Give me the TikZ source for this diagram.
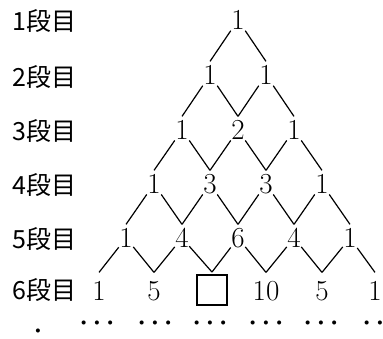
\RequirePackage{fix-cm}
\documentclass[tikz,border=0pt]{standalone}
\usepackage{fontspec}
\newfontfamily\jpfont{Noto Sans CJK JP}

\tikzset{
  num/.style={font=\fontsize{29}{29}\selectfont, inner sep=0pt, minimum height=26pt},
  blank/.style={draw, line width=1.9pt, minimum size=30pt, inner sep=0pt},
  rowlabel/.style={font=\jpfont\fontsize{25}{25}\selectfont, anchor=west, inner sep=0pt},
  more/.style={font=\fontsize{26}{26}\selectfont\boldmath, inner sep=0pt},
}

\begin{document}
\begin{tikzpicture}[x=1pt, y=-1pt, every path/.style={line width=1.2pt}]
  \useasboundingbox (0,0) rectangle (383,338);
  % row labels
  \node[rowlabel] (lab1) at (12,21)  {1段目};
  \node[rowlabel] (lab2) at (12,77)  {2段目};
  \node[rowlabel] (lab3) at (12,131) {3段目};
  \node[rowlabel] (lab4) at (12,185) {4段目};
  \node[rowlabel] (lab5) at (12,239) {5段目};
  \node[rowlabel] (lab6) at (12,290) {6段目};
  % the numbers, row by row
  \node[num] (n11) at (238,20) {1};
  \node[num] (n21) at (210,75) {1};
  \node[num] (n22) at (266,75) {1};
  \node[num] (n31) at (182,130) {1};
  \node[num] (n32) at (238,130) {2};
  \node[num] (n33) at (294,130) {1};
  \node[num] (n41) at (154,184) {1};
  \node[num] (n42) at (210,184) {3};
  \node[num] (n43) at (266,184) {3};
  \node[num] (n44) at (322,184) {1};
  \node[num] (n51) at (126,238) {1};
  \node[num] (n52) at (182,238) {4};
  \node[num] (n53) at (238,238) {6};
  \node[num] (n54) at (294,238) {4};
  \node[num] (n55) at (350,238) {1};
  \node[num] (n61) at (99,291)  {1};
  \node[num] (n62) at (154,291) {5};
  \node[blank] (n63) at (212,290) {};
  \node[num] (n64) at (266,291) {10};
  \node[num] (n65) at (322,291) {5};
  \node[num] (n66) at (375,291) {1};
  % connectors
  \draw (n11) -- (n21.north) (n11) -- (n22.north);
  \draw (n21) -- (n31.north) (n21) -- (n32.north)
        (n22) -- (n32.north) (n22) -- (n33.north);
  \draw (n31) -- (n41.north) (n31) -- (n42.north)
        (n32) -- (n42.north) (n32) -- (n43.north)
        (n33) -- (n43.north) (n33) -- (n44.north);
  \draw (n41) -- (n51.north) (n41) -- (n52.north)
        (n42) -- (n52.north) (n42) -- (n53.north)
        (n43) -- (n53.north) (n43) -- (n54.north)
        (n44) -- (n54.north) (n44) -- (n55.north);
  % last row: the lines stop a little higher
  \draw (n51) -- ([yshift=5pt]n61.north) (n51) -- ([yshift=5pt]n62.north)
        (n52) -- ([yshift=5pt]n62.north) (n52) -- ([yshift=2pt]n63.north)
        (n53) -- ([yshift=2pt]n63.north) (n53) -- ([yshift=5pt]n64.north)
        (n54) -- ([yshift=5pt]n64.north) (n54) -- ([yshift=5pt]n65.north)
        (n55) -- ([yshift=5pt]n65.north) (n55) -- ([yshift=5pt]n66.north);
  % and so on
  \node[more] (dot0) at (38,331) {$\cdot$};
  \node[more] (dots1) at (97,323)  {$\cdots$};
  \node[more] (dots2) at (155,323) {$\cdots$};
  \node[more] (dots3) at (210,323) {$\cdots$};
  \node[more] (dots4) at (266,323) {$\cdots$};
  \node[more] (dots5) at (321,323) {$\cdots$};
  \node[more] (dots6) at (380,323) {$\cdots$};
\end{tikzpicture}
\end{document}
